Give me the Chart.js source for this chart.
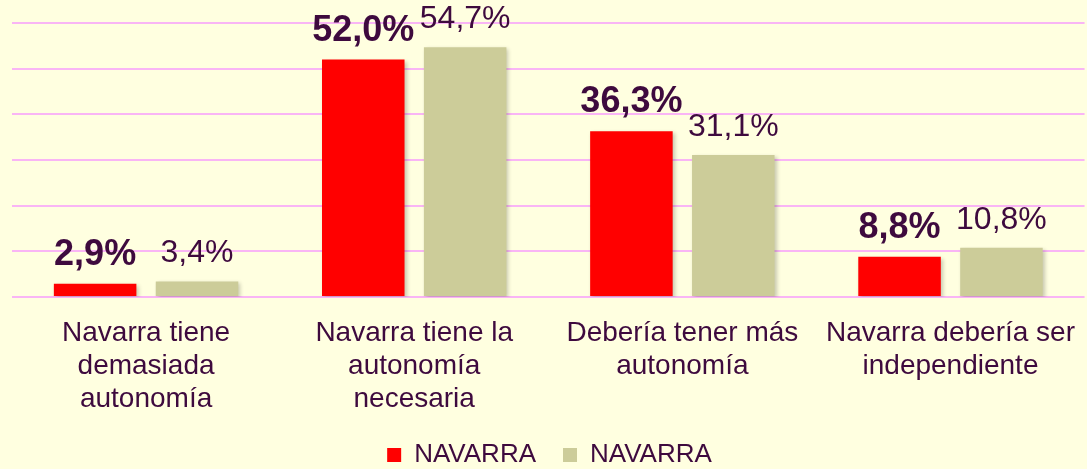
<!DOCTYPE html>
<html>
<head>
<meta charset="utf-8">
<script src="https://cdn.jsdelivr.net/npm/chart.js@4"></script>
<style>
  html, body { margin: 0; padding: 0; background: #FFFFE0; }
  #wrap { width: 1087px; height: 469px; position: relative; }
</style>
</head>
<body>
<div id="wrap"><canvas id="myChart"></canvas></div>
<script>
// data
let categories = [
    ['Navarra tiene', 'demasiada', 'autonomía'],
    ['Navarra tiene la', 'autonomía', 'necesaria'],
    ['Debería tener más', 'autonomía'],
    ['Navarra debería ser', 'independiente']
];
let seriesNames = ['NAVARRA', 'NAVARRA'];
let valuesRed = [2.9, 52.0, 36.3, 8.8];
let valuesKhaki = [3.4, 54.7, 31.1, 10.8];

let textColor = '#3E0A3E';

// draws the value above each bar, red series in bold
let valueLabels = {
    id: 'valueLabels',
    afterDatasetsDraw: (chart) => {
        let ctx = chart.ctx;
        ctx.save();
        ctx.fillStyle = textColor;
        ctx.textAlign = 'center';
        ctx.textBaseline = 'alphabetic';
        chart.data.datasets.forEach((ds, i) => {
            let meta = chart.getDatasetMeta(i);
            ctx.font = i === 0 ? 'bold 36px "Liberation Sans", Arial, sans-serif' : '32px "Liberation Sans", Arial, sans-serif';
            meta.data.forEach((bar, j) => {
                let txt = ds.data[j].toFixed(1).replace('.', ',') + '%';
                ctx.fillText(txt, bar.x, bar.y - 19);
            });
        });
        ctx.restore();
    }
};

// light shadow behind bars
let barShadow = {
    id: 'barShadow',
    beforeDatasetsDraw: (chart) => {
        let ctx = chart.ctx;
        ctx.save();
        ctx.shadowColor = 'rgba(0,0,0,0.22)';
        ctx.shadowBlur = 4;
        ctx.shadowOffsetX = 2;
        ctx.shadowOffsetY = 2;
    },
    afterDatasetsDraw: (chart) => {
        chart.ctx.restore();
    }
};

let ctx = document.getElementById('myChart').getContext('2d');
let myChart = new Chart(ctx, {
    type: 'bar',
    data: {
        labels: categories,
        datasets: [{
            label: seriesNames[0],
            data: valuesRed,
            backgroundColor: '#FF0000',
            categoryPercentage: 0.76,
            barPercentage: 0.81
        }, {
            label: seriesNames[1],
            data: valuesKhaki,
            backgroundColor: '#CCCC99',
            categoryPercentage: 0.76,
            barPercentage: 0.81
        }]
    },
    options: {
        responsive: true,
        maintainAspectRatio: false,
        animation: false,
        layout: {
            padding: { top: 23, left: 12, right: 0, bottom: -9 }
        },
        scales: {
            x: {
                grid: { display: false },
                border: { display: false },
                ticks: {
                    color: textColor,
                    font: { family: '"Liberation Sans", Arial, sans-serif', size: 28, lineHeight: 1.18 },
                    padding: 12,
                    maxRotation: 0,
                    autoSkip: false
                },
                afterFit: (scale) => {
                    scale.height = 118;
                }
            },
            y: {
                min: 0,
                max: 60,
                ticks: { display: false, stepSize: 10 },
                border: { display: false },
                grid: { color: '#F9B5F5', lineWidth: 2, drawTicks: false }
            }
        },
        plugins: {
            legend: {
                position: 'bottom',
                labels: {
                    color: textColor,
                    font: { family: '"Liberation Sans", Arial, sans-serif', size: 26 },
                    boxWidth: 14,
                    boxHeight: 14,
                    padding: 27
                }
            },
            tooltip: { enabled: false }
        }
    },
    plugins: [barShadow, valueLabels]
});
</script>
</body>
</html>
